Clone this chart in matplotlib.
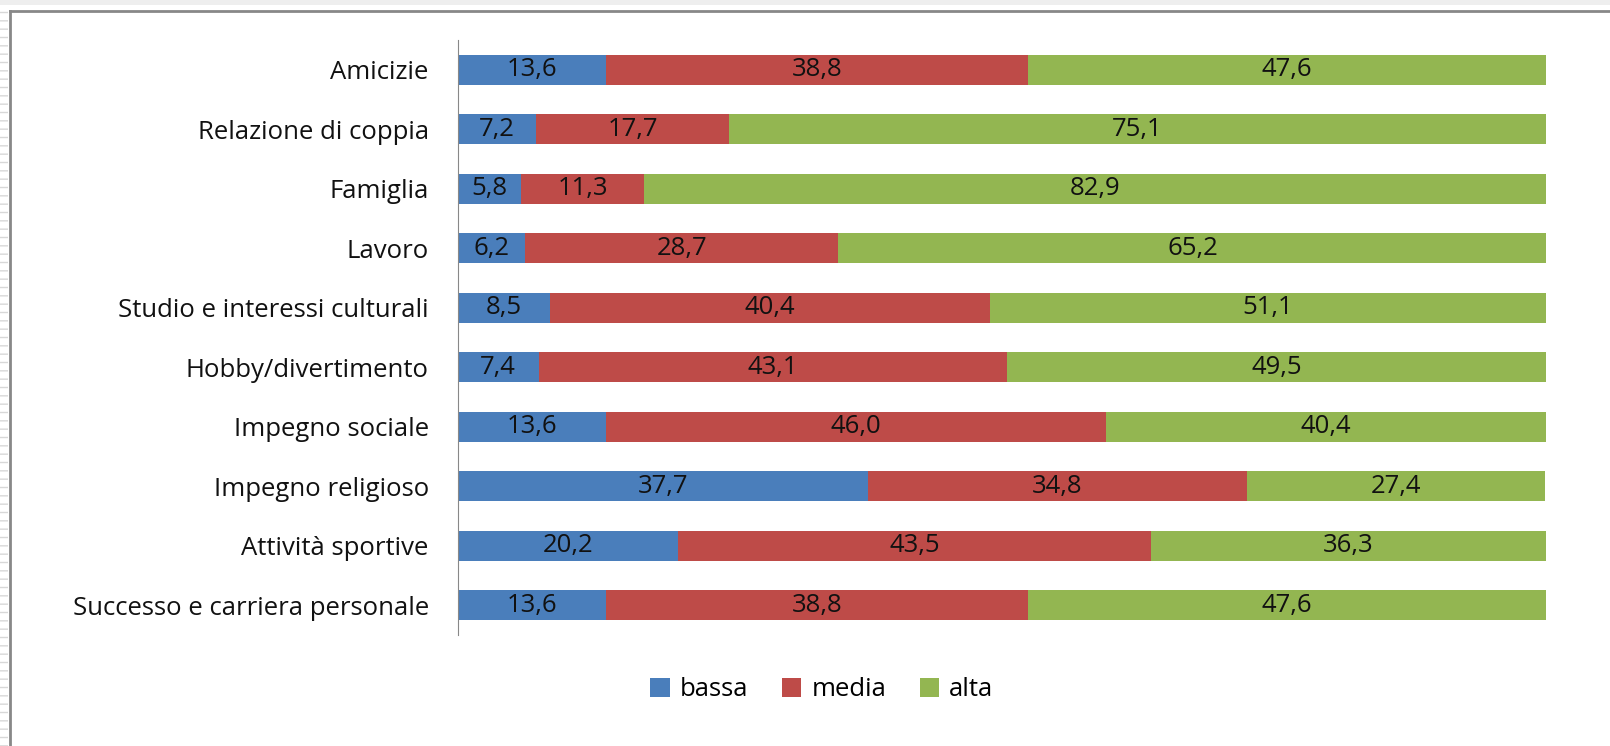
import numpy as np
import matplotlib.pyplot as plt
from matplotlib.patches import Rectangle
from matplotlib.lines import Line2D

plt.rcParams['font.family'] = ['Open Sans', 'DejaVu Sans']

categories = ["Amicizie", "Relazione di coppia", "Famiglia", "Lavoro",
              "Studio e interessi culturali", "Hobby/divertimento",
              "Impegno sociale", "Impegno religioso", "Attività sportive",
              "Successo e carriera personale"]
bassa = [13.6, 7.2, 5.8, 6.2, 8.5, 7.4, 13.6, 37.7, 20.2, 13.6]
media = [38.8, 17.7, 11.3, 28.7, 40.4, 43.1, 46.0, 34.8, 43.5, 38.8]
alta = [47.6, 75.1, 82.9, 65.2, 51.1, 49.5, 40.4, 27.4, 36.3, 47.6]
series = {"bassa": bassa, "media": media, "alta": alta}
colors = {"bassa": "#4A7EBB", "media": "#BE4B48", "alta": "#93B651"}

fs = 18.5

fig = plt.figure(figsize=(16.1, 7.46), dpi=100)
ax = fig.add_axes([458/1610, 1-635/746, (1546-458)/1610, (635-40)/746])

y = np.arange(len(categories))
left = np.zeros(len(categories))
for name, vals in series.items():
    vals = np.array(vals)
    ax.barh(y, vals, left=left, height=0.5, color=colors[name], label=name)
    for yi, l, v in zip(y, left, vals):
        ax.text(l + v/2, yi, f"{v:.1f}".replace('.', ','), ha='center',
                va='center', fontsize=fs, color='#111111')
    left += vals

ax.set_xlim(0, 100)
ax.set_ylim(len(categories) - 0.5, -0.5)
ax.set_yticks(y)
ax.set_yticklabels(categories, fontsize=fs, color='#111111')
ax.tick_params(axis='y', length=0, pad=21)
ax.set_xticks([])
for s in ['top', 'right', 'bottom']:
    ax.spines[s].set_visible(False)
ax.spines['left'].set_color('#888888')

fig.legend(*ax.get_legend_handles_labels(), loc='center',
           bbox_to_anchor=(822/1610, 1-690/746), ncol=3, frameon=False,
           fontsize=fs, handlelength=0.75, handleheight=0.75, columnspacing=1.3,
           handletextpad=0.4)

# frame of the slide
fig.add_artist(Rectangle((0, 0), 8/1610, 1, transform=fig.transFigure,
                         facecolor='white', edgecolor='#d8d8d8', hatch='--', lw=0))
fig.add_artist(Rectangle((0, 1-5/746), 1, 5/746, transform=fig.transFigure,
                         facecolor='#eeeeee', lw=0))
fig.add_artist(Line2D([10/1610, 1], [1-11/746, 1-11/746], transform=fig.transFigure,
                      color='#888888', lw=2))
fig.add_artist(Line2D([10/1610, 10/1610], [0, 1-11/746], transform=fig.transFigure,
                      color='#888888', lw=2))

fig.savefig("out.png", dpi=100)
